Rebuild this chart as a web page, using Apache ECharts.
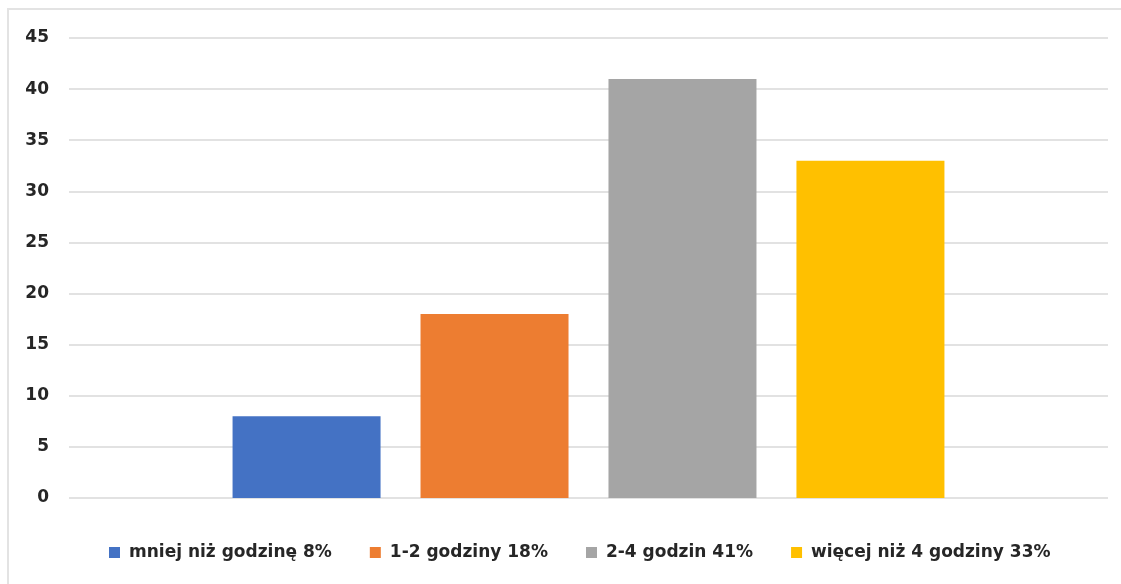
<!DOCTYPE html>
<html>
<head>
<meta charset="utf-8">
<title>chart</title>
<script src="https://cdn.jsdelivr.net/npm/echarts@6/dist/echarts.min.js"></script>
<style>
  html, body { margin: 0; padding: 0; background: #fff; overflow: hidden; }
  #frame {
    position: absolute; left: 7px; top: 8px; width: 1300px; height: 700px;
    border: 2px solid #e3e3e3; box-sizing: border-box;
  }
  #main { position: absolute; left: 0; top: 0; width: 1121px; height: 584px; }
</style>
</head>
<body>
<div id="frame"></div>
<div id="main"></div>
<script>
// dane wykresu
const categories = [""];
const seriesNames = ["mniej niż godzinę 8%", "1-2 godziny 18%", "2-4 godzin 41%", "więcej niż 4 godziny 33%"];
const seriesValues = [8, 18, 41, 33];
const colors = ["#4472c4", "#ed7d31", "#a5a5a5", "#ffc000"];

const font = "'DejaVu Sans', sans-serif";

const chart = echarts.init(document.getElementById("main"));

const options = {
  animation: false,
  grid: {
    left: 69,
    right: 13,
    top: 38,
    bottom: 86,
  },
  legend: {
    bottom: 18,
    left: 104,
    itemWidth: 11,
    itemHeight: 11,
    itemGap: 38,
    icon: "rect",
    data: seriesNames,
    textStyle: {
      color: "#262626",
      fontSize: 17,
      fontWeight: "bold",
      fontFamily: font,
      padding: [0, 0, 0, 4],
    },
  },
  xAxis: {
    type: "category",
    data: categories,
    axisLine: { show: false },
    axisTick: { show: false },
    axisLabel: { show: false },
  },
  yAxis: {
    type: "value",
    min: 0,
    max: 45,
    interval: 5,
    axisLine: { show: false },
    axisTick: { show: false },
    splitLine: { lineStyle: { color: "#d9d9d9", width: 1.5 } },
    axisLabel: {
      color: "#262626",
      fontSize: 17,
      fontWeight: "bold",
      fontFamily: font,
      margin: 20,
    },
  },
  series: seriesNames.map((name, i) => ({
    name: name,
    type: "bar",
    data: [seriesValues[i]],
    barWidth: 148,
    barGap: "27%",
    itemStyle: { color: colors[i] },
  })),
};

chart.setOption(options);
</script>
</body>
</html>
